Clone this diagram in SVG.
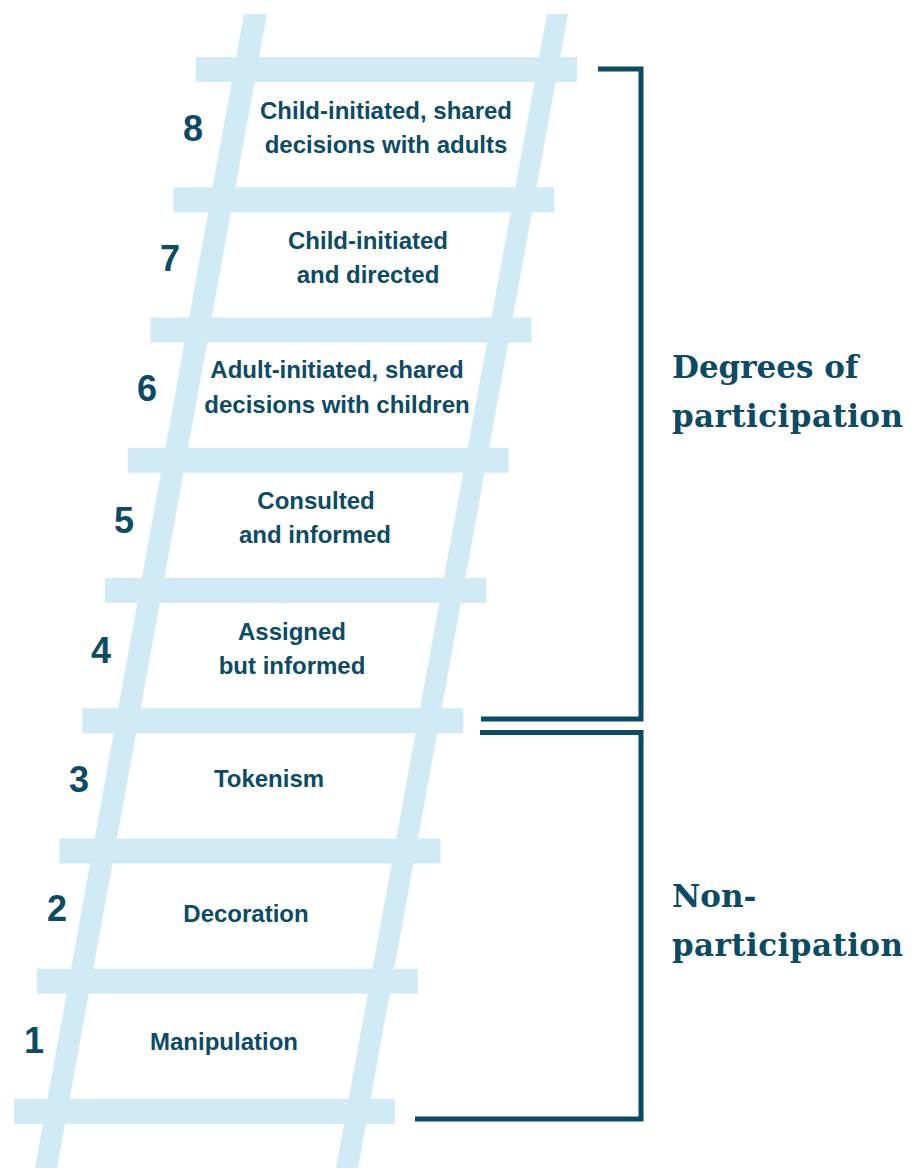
<svg xmlns="http://www.w3.org/2000/svg" width="914" height="1168" viewBox="0 0 914 1168">
<style>
.rail{fill:#d0ebf6}
.rung{fill:#d0ebf6}
.num{font-family:"Liberation Sans",Arial,sans-serif;font-weight:bold;font-size:36px;fill:#0b4b66;text-anchor:middle}
.lbl{font-family:"Liberation Sans",Arial,sans-serif;font-weight:bold;font-size:24px;fill:#0b4b66;text-anchor:middle}
.head{font-family:"DejaVu Serif","Liberation Serif",serif;font-weight:bold;font-size:31px;fill:#0b4b66}
.br{fill:none;stroke:#0b4b66;stroke-width:5}
</style>
<rect width="914" height="1168" fill="#ffffff"/>
<g id="ladder">
<polygon class="rail" points="244,14 267,14 57,1168 35,1168"/>
<polygon class="rail" points="547,14 568,14 358,1168 336,1168"/>
<rect class="rung" x="196" y="57" width="381" height="25"/>
<rect class="rung" x="173.25" y="187.25" width="381" height="25"/>
<rect class="rung" x="150.5" y="317.5" width="381" height="25"/>
<rect class="rung" x="127.75" y="447.75" width="381" height="25"/>
<rect class="rung" x="105" y="578" width="381" height="25"/>
<rect class="rung" x="82.25" y="708.25" width="381" height="25"/>
<rect class="rung" x="59.5" y="838.5" width="381" height="25"/>
<rect class="rung" x="36.75" y="968.75" width="381" height="25"/>
<rect class="rung" x="14" y="1099" width="381" height="25"/>
</g>
<g id="step8"><text class="num" x="193" y="141">8</text><text class="lbl" x="386" y="119">Child-initiated, shared</text><text class="lbl" x="386" y="153">decisions with adults</text></g>
<g id="step7"><text class="num" x="170" y="271">7</text><text class="lbl" x="368" y="249">Child-initiated</text><text class="lbl" x="368" y="283">and directed</text></g>
<g id="step6"><text class="num" x="147" y="401">6</text><text class="lbl" x="337" y="378">Adult-initiated, shared</text><text class="lbl" x="337" y="413">decisions with children</text></g>
<g id="step5"><text class="num" x="124" y="533">5</text><text class="lbl" x="316" y="509">Consulted</text><text class="lbl" x="315" y="543">and informed</text></g>
<g id="step4"><text class="num" x="101" y="663">4</text><text class="lbl" x="292" y="640">Assigned</text><text class="lbl" x="292" y="674">but informed</text></g>
<g id="step3"><text class="num" x="79" y="792">3</text><text class="lbl" x="269" y="787">Tokenism</text></g>
<g id="step2"><text class="num" x="57" y="921">2</text><text class="lbl" x="246" y="922">Decoration</text></g>
<g id="step1"><text class="num" x="34" y="1053">1</text><text class="lbl" x="224" y="1050">Manipulation</text></g>
<g id="connectors">
<polyline class="br" points="598,69 641,69 641,719 481,719"/>
<polyline class="br" points="480,732.5 641,732.5 641,1119 415,1119"/>
</g>
<g id="participation"><text class="head" x="672" y="378">Degrees of</text><text class="head" x="672" y="427" textLength="231" lengthAdjust="spacing">participation</text></g>
<g id="nonparticipation"><text class="head" x="672" y="907">Non-</text><text class="head" x="672" y="956" textLength="231" lengthAdjust="spacing">participation</text></g>
</svg>
